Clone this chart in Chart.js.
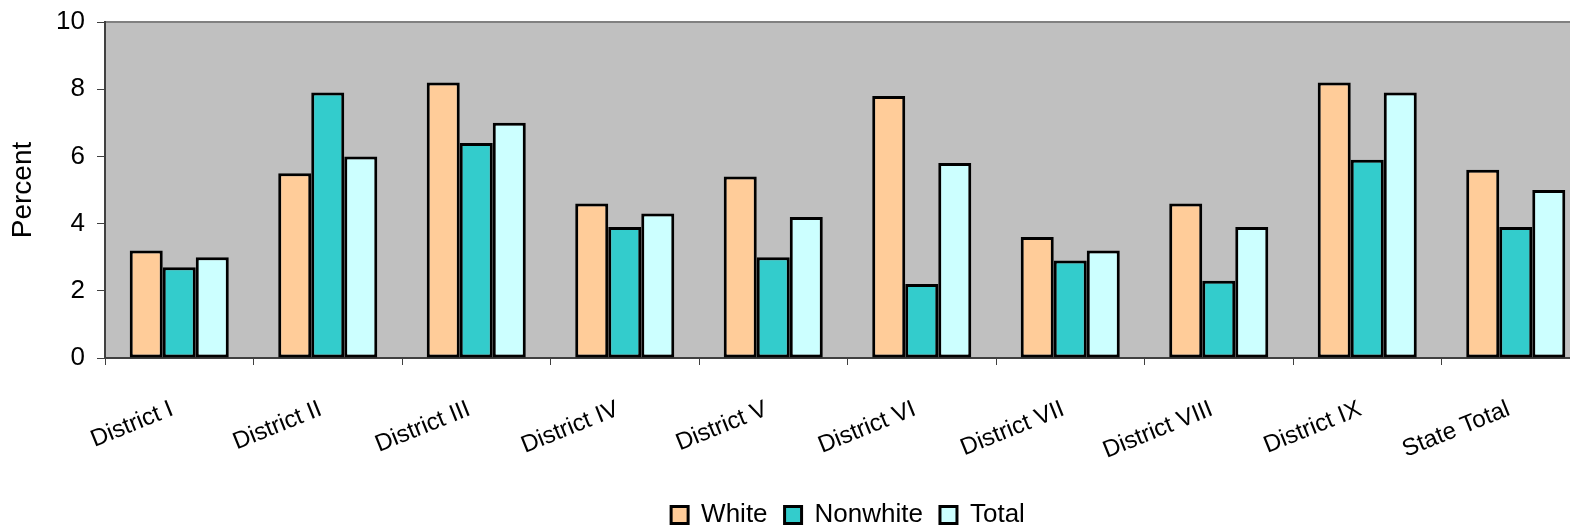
<!DOCTYPE html>
<html>
<head>
<meta charset="utf-8">
<script src="https://cdn.jsdelivr.net/npm/chart.js@4/dist/chart.umd.min.js"></script>
<style>
html, body { margin: 0; padding: 0; overflow: hidden; background: #fff; }
</style>
</head>
<body>
<canvas id="chart" width="1600" height="527"></canvas>
<script>
// Data
const districts = ['District I', 'District II', 'District III', 'District IV', 'District V',
    'District VI', 'District VII', 'District VIII', 'District IX', 'State Total'];
const white = [3.2, 5.5, 8.2, 4.6, 5.4, 7.8, 3.6, 4.6, 8.2, 5.6];
const nonwhite = [2.7, 7.9, 6.4, 3.9, 3.0, 2.2, 2.9, 2.3, 5.9, 3.9];
const total = [3.0, 6.0, 7.0, 4.3, 4.2, 5.8, 3.2, 3.9, 7.9, 5.0];
const yTicks = [0, 2, 4, 6, 8, 10];

const FONT = "'Liberation Sans', Arial, sans-serif";

// grey plot area with grey border
const plotBackground = {
    id: 'plotBackground',
    beforeDraw(chart) {
        const { ctx, chartArea: a } = chart;
        ctx.save();
        ctx.fillStyle = '#c0c0c0';
        ctx.fillRect(a.left, a.top, a.right - a.left, a.bottom - a.top);
        ctx.strokeStyle = '#808080';
        ctx.lineWidth = 2;
        ctx.strokeRect(a.left, a.top, a.right - a.left, a.bottom - a.top);
        ctx.restore();
    }
};

// legend is centred on the plot area, which runs off the right edge
const shiftLegend = {
    id: 'shiftLegend',
    afterLayout(chart) {
        const lg = chart.legend;
        lg.left += 53; lg.right += 53;
        lg.top += 11; lg.bottom += 11;
    }
};

const ctx = document.getElementById('chart').getContext('2d');
new Chart(ctx, {
    type: 'bar',
    data: {
        labels: districts,
        datasets: [
            { label: 'White', data: white, backgroundColor: '#ffcc99' },
            { label: 'Nonwhite', data: nonwhite, backgroundColor: '#33cccc' },
            { label: 'Total', data: total, backgroundColor: '#ccffff' }
        ].map(d => Object.assign(d, { borderColor: '#000', borderWidth: 3, borderSkipped: false }))
    },
    options: {
        responsive: false,
        animation: false,
        layout: { padding: { top: 22, right: 10, left: 0, bottom: 0 } },
        datasets: { bar: { categoryPercentage: 0.667, barPercentage: 1.0 } },
        scales: {
            x: {
                grid: { offset: true, drawOnChartArea: false, tickLength: 7, color: '#404040', lineWidth: 1 },
                border: { color: '#404040', width: 2 },
                ticks: {
                    minRotation: 22, maxRotation: 22, padding: 30, labelOffset: -7,
                    color: '#000', font: { family: FONT, size: 24 }
                },
                afterFit(scale) { scale.height = 116; }
            },
            y: {
                min: 0, max: 10,
                afterBuildTicks(scale) { scale.ticks = yTicks.map(v => ({ value: v })); },
                grid: { drawOnChartArea: false, tickLength: 8, color: '#404040', lineWidth: 1 },
                border: { color: '#404040', width: 2 },
                ticks: { padding: 12, color: '#000', font: { family: FONT, size: 26 } },
                title: {
                    display: true, text: 'Percent', color: '#000',
                    font: { family: FONT, size: 28 }, padding: { top: 6, bottom: 0 }
                },
                afterFit(scale) {
                    scale.width = 105;
                    scale.paddingTop = 0;
                    scale.paddingBottom = 0;
                }
            }
        },
        plugins: {
            legend: {
                position: 'bottom',
                labels: {
                    boxWidth: 17, boxHeight: 17, padding: 17,
                    color: '#000', font: { family: FONT, size: 26 }
                }
            },
            tooltip: { enabled: false }
        }
    },
    plugins: [plotBackground, shiftLegend]
});
</script>
</body>
</html>
